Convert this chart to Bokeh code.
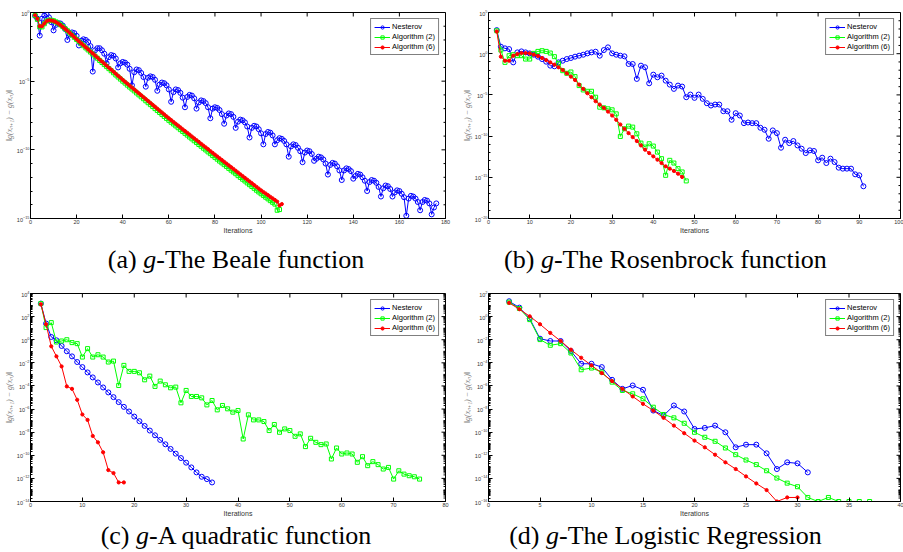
import math
from bokeh.plotting import figure
from bokeh.models import Range1d, FixedTicker, Legend, LegendItem, Div
from bokeh.layouts import column, row
from bokeh.embed import file_html
from bokeh.resources import INLINE

BLUE = "#0000ff"
GREEN = "#00ff00"
RED = "#ff0000"
LABELS = ["Nesterov", "Algorithm (2)", "Algorithm (6)"]
Y_LABEL = "‖g(xₙ₊₁) − g(xₙ)‖"
X_LABEL = "Iterations"

# ---- data: log10 of ||g(x_{n+1}) - g(x_n)||, iterations start at 2 ----
# (a) Beale
A_NES = [-0.24, -0.45, -1.68, -0.45, -0.22, -0.15, -0.35, -0.7, -1.3, -0.9,
         -0.78, -0.8, -0.95, -1.2, -2.0, -1.6, -1.45, -1.5, -1.7, -2.4,
         -2.05, -1.95, -2.0, -2.15, -2.45, -4.3, -2.75, -2.6, -2.6, -2.75,
         -3.0, -3.7, -3.25, -3.1, -3.15, -3.35, -4.0, -3.7, -3.6, -3.65,
         -3.8, -4.1, -5.3, -4.35, -4.15, -4.2, -4.4, -4.7, -5.4, -4.75,
         -4.65, -4.7, -4.9, -5.7, -5.25, -5.1, -5.15, -5.3, -5.6, -6.5,
         -5.8, -5.6, -5.65, -5.85, -6.2, -6.9, -6.15, -6.0, -6.05, -6.25,
         -7.0, -6.55, -6.4, -6.45, -6.6, -6.9, -7.7, -7.0, -6.9, -6.95,
         -7.1, -7.4, -8.1, -7.5, -7.35, -7.4, -7.6, -8.4, -7.95, -7.8,
         -7.85, -8.0, -8.3, -9.1, -8.4, -8.25, -8.3, -8.5, -8.8, -9.6,
         -8.85, -8.7, -8.75, -8.95, -9.6, -9.3, -9.15, -9.2, -9.35, -9.6,
         -10.5, -9.75, -9.6, -9.65, -9.85, -10.1, -10.9, -10.2, -10.05, -10.1,
         -10.3, -10.8, -10.65, -10.5, -10.55, -10.7, -11.0, -11.8, -11.1, -10.95,
         -11.0, -11.2, -11.5, -12.2, -11.5, -11.35, -11.4, -11.55, -12.1, -11.9,
         -11.75, -11.8, -12.0, -12.25, -13.0, -12.35, -12.2, -12.25, -12.4, -12.7,
         -13.4, -12.8, -12.6, -12.65, -12.85, -13.4, -13.1, -12.95, -13.0, -13.2,
         -13.45, -14.8, -13.55, -13.35, -13.4, -13.55, -13.8, -14.4, -13.8, -13.65,
         -13.7, -13.9, -14.7, -14.2, -13.9]
A_ALG2 = [-0.22, -0.50, -1.05, -1.05, -0.82, -0.62, -0.56, -0.56, -0.60, -0.68,
          -0.78, -0.90, -1.03, -1.18, -1.33, -1.49, -1.65, -1.81, -1.97,
          -2.12, -2.27, -2.42, -2.58, -2.73, -2.88, -3.03, -3.18, -3.33, -3.49,
          -3.64, -3.79, -3.94, -4.09, -4.24, -4.39, -4.55, -4.70, -4.85, -5.00,
          -5.14, -5.29, -5.43, -5.57, -5.71, -5.86, -6.00, -6.14, -6.28, -6.43,
          -6.57, -6.71, -6.85, -7.00, -7.14, -7.28, -7.42, -7.57, -7.71, -7.85,
          -7.99, -8.12, -8.26, -8.39, -8.53, -8.66, -8.80, -8.93, -9.07, -9.20,
          -9.34, -9.47, -9.61, -9.74, -9.88, -10.01, -10.15, -10.28, -10.42, -10.55,
          -10.68, -10.82, -10.95, -11.08, -11.21, -11.35, -11.48, -11.61, -11.74, -11.88,
          -12.01, -12.14, -12.27, -12.41, -12.54, -12.67, -12.80, -12.94, -13.07, -13.20,
          -13.32, -13.45, -13.57, -13.70, -13.82, -13.95, -14.40, -14.35]
A_ALG6 = [-0.20, -0.45, -1.00, -1.00, -0.80, -0.62, -0.57, -0.58, -0.62, -0.70,
          -0.80, -0.92, -1.05, -1.19, -1.33, -1.48, -1.63, -1.79, -1.95,
          -2.10, -2.25, -2.39, -2.54, -2.69, -2.84, -2.98, -3.13, -3.28, -3.43,
          -3.57, -3.72, -3.87, -4.02, -4.16, -4.31, -4.46, -4.61, -4.75, -4.90,
          -5.04, -5.18, -5.32, -5.46, -5.60, -5.74, -5.88, -6.02, -6.16, -6.30,
          -6.44, -6.58, -6.72, -6.86, -7.00, -7.14, -7.28, -7.42, -7.56, -7.70,
          -7.83, -7.97, -8.10, -8.23, -8.36, -8.50, -8.63, -8.76, -8.89, -9.03,
          -9.16, -9.29, -9.42, -9.56, -9.69, -9.82, -9.95, -10.09, -10.22, -10.35,
          -10.48, -10.61, -10.74, -10.87, -11.00, -11.13, -11.26, -11.39, -11.52, -11.65,
          -11.78, -11.91, -12.04, -12.17, -12.30, -12.43, -12.56, -12.69, -12.82, -12.95,
          -13.07, -13.18, -13.30, -13.42, -13.53, -13.65, -13.77, -14.05, -13.95]

# (b) Rosenbrock
B_NES = [2.86, 0.85, 0.65, 0.56, -1.05, 0.16, 0.28, 0.16, 0.04, -0.12,
         -0.36, -0.65, -0.97, -1.45, -1.53, -1.05, -0.85, -0.65, -0.52, -0.36,
         -0.24, -0.12, 0.04, 0.16, 0.24, -0.24, 0.44, 0.77, 0.04, -0.12,
         -0.24, -0.32, -1.25, -1.25, -3.06, -1.45, -1.65, -3.59, -2.54, -2.86,
         -2.66, -3.27, -3.75, -4.27, -3.87, -3.99, -5.28, -4.96, -5.36, -4.96,
         -5.48, -6.01, -6.29, -6.17, -6.17, -6.98, -6.98, -8.02, -7.22, -7.5,
         -8.43, -8.35, -8.43, -8.43, -8.99, -9.23, -10.32, -9.31, -9.64, -11.41,
         -10.44, -10.85, -10.6, -11.13, -11.53, -12.06, -11.73, -11.81, -12.94, -12.62,
         -13.27, -12.74, -13.15, -13.83, -13.95, -13.95, -13.95, -14.64, -14.76, -16.09]
B_ALG2 = [2.78, 0.44, -1.05, -0.24, -0.12, -0.24, -0.24, -0.65, -0.65, 0.04,
          0.28, 0.36, 0.28, 0.08, -0.36, -1.17, -2.06, -2.38, -2.22, -2.78,
          -3.87, -4.4, -4.56, -4.56, -5.28, -6.49, -6.57, -6.69, -6.81, -7.3,
          -10.04, -9.11, -8.79, -8.91, -9.72, -10.85, -11.33, -10.93, -11.21, -11.94,
          -12.74, -14.76, -12.94, -13.27, -13.95, -14.35, -15.44]
B_ALG6 = [2.7, -0.36, -0.85, -0.85, -0.24, -0.04, 0.08, 0.08, 0.04, -0.12,
          -0.28, -0.52, -0.77, -1.05, -1.33, -1.65, -1.98, -2.38, -2.78, -3.19,
          -3.75, -4.27, -4.8, -5.28, -5.77, -6.17, -6.57, -7.02, -7.5, -8.02,
          -8.59, -9.11, -9.64, -10.12, -10.6, -11.13, -11.65, -12.06, -12.46, -12.86,
          -13.27, -13.67, -13.95, -14.23, -14.56, -14.96]

# (c) quadratic
C_NES = [3.13, 1.4, 0.24, -0.05, -0.54, -1.0, -1.44, -1.93, -2.37, -2.83,
         -3.26, -3.7, -4.13, -4.56, -4.97, -5.4, -5.81, -6.21, -6.65, -7.05,
         -7.46, -7.86, -8.27, -8.67, -9.05, -9.45, -9.86, -10.24, -10.64, -11.05,
         -11.48, -11.86, -12.06, -12.35]
C_ALG2 = [3.13, 1.05, 1.48, -0.2, -0.11, 0.0, -0.25, -0.34, -1.5, -0.77,
          -1.5, -1.3, -1.5, -1.93, -1.85, -3.96, -2.22, -2.74, -2.74, -2.86,
          -3.47, -3.15, -4.04, -3.58, -3.9, -4.16, -4.1, -5.46, -4.39, -4.91,
          -4.91, -5.03, -5.64, -5.26, -6.07, -5.69, -5.98, -6.27, -6.13, -8.59,
          -6.5, -6.94, -6.94, -7.08, -7.86, -7.34, -8.01, -7.72, -7.86, -8.36,
          -8.15, -9.25, -8.53, -8.88, -9.08, -9.02, -10.32, -9.37, -9.89, -9.8,
          -9.89, -10.61, -10.12, -10.9, -10.55, -10.81, -11.19, -11.05, -12.06, -11.34,
          -11.63, -11.77, -11.86, -12.06]
C_ALG6 = [3.07, 1.34, -0.57, -1.44, -2.31, -4.04, -4.25, -5.2, -6.47, -6.94,
          -8.33, -8.88, -9.74, -11.28, -11.54, -12.35, -12.35]

# (d) logistic regression
D_NES = [1.33, 0.78, -0.17, -1.91, -2.11, -2.11, -2.98, -4.08, -4.08, -4.37,
         -5.47, -6.25, -5.96, -6.33, -8.13, -8.56, -7.69, -8.21, -9.72, -9.63,
         -9.43, -10.01, -11.31, -11.08, -11.08, -11.83, -13.19, -12.61, -12.7, -13.48]
D_ALG2 = [1.25, 0.7, -0.26, -1.99, -2.48, -2.34, -3.15, -4.6, -4.45, -4.8,
          -5.67, -6.39, -6.68, -7.11, -7.84, -8.47, -8.76, -9.23, -10.01, -10.44,
          -10.79, -11.37, -11.95, -12.41, -12.81, -13.34, -13.97, -14.41, -14.72, -15.65,
          -16.0, -15.65, -16.0, -16.0, -16.0, -16.0]
D_ALG6 = [1.19, 0.64, 0.03, -0.66, -1.41, -2.11, -2.86, -3.56, -4.22, -4.89,
          -5.58, -6.25, -6.91, -7.55, -8.13, -8.76, -9.43, -10.09, -10.73, -11.31,
          -11.95, -12.61, -13.19, -13.83, -14.44, -15.01, -16.0, -15.65, -15.65]

CAPTIONS = ["(a) <i>g</i>-The Beale function",
            "(b) <i>g</i>-The Rosenbrock function",
            "(c) <i>g</i>-A quadratic function",
            "(d) <i>g</i>-The Logistic Regression"]

SANS = "Liberation Sans"


def make_fig(series, w, h, mbl, mbr, mbt, mbb, xmax, xstep, ylo, yhi, ystep, dense):
    p = figure(width=w, height=h, x_range=Range1d(0, xmax),
               y_range=Range1d(10.0 ** ylo, 10.0 ** yhi), y_axis_type="log",
               output_backend="svg", toolbar_location=None,
               min_border_left=mbl, min_border_right=mbr,
               min_border_top=mbt, min_border_bottom=mbb)
    p.background_fill_color = "white"
    p.border_fill_color = "white"
    p.outline_line_color = "black"
    p.outline_line_width = 1
    p.xgrid.visible = False
    p.ygrid.visible = False

    xt = list(range(0, xmax + 1, xstep))
    ymaj = [10.0 ** e for e in range(ylo, yhi + 1, ystep)]
    if dense:
        ymin = [k * 10.0 ** e for e in range(ylo, yhi) for k in range(1, 10)
                if not (k == 1 and (e - ylo) % ystep == 0)]
    else:
        ymin = [10.0 ** e for e in range(ylo, yhi + 1) if (e - ylo) % ystep]

    xa = p.below[0]
    ya = p.left[0]
    xa.ticker = FixedTicker(ticks=xt)
    ya.ticker = FixedTicker(ticks=ymaj, minor_ticks=ymin)
    for ax in (xa, ya):
        ax.major_tick_in = 4
        ax.major_tick_out = 0
        ax.minor_tick_in = 2
        ax.minor_tick_out = 0
        ax.axis_line_color = "black"
        ax.major_label_text_font = SANS
        ax.major_label_text_font_size = "5.5px"
        ax.major_label_text_color = "#333333"
        ax.major_label_standoff = 1
        ax.axis_label_standoff = 0
    xa.axis_label = X_LABEL
    xa.axis_label_text_font = SANS
    xa.axis_label_text_font_size = "7px"
    xa.axis_label_text_font_style = "normal"
    xa.axis_label_text_color = "#333333"
    ya.axis_label = Y_LABEL
    ya.axis_label_text_font = "Liberation Serif"
    ya.axis_label_text_font_size = "8px"
    ya.axis_label_text_font_style = "italic"
    ya.axis_label_text_color = "#808080"

    # inward tick marks on the top and right edges (box style)
    ytop = 10.0 ** yhi
    p.ray(x=xt, y=[ytop] * len(xt), length=4, angle=-math.pi / 2,
          length_units="screen", line_color="black", line_width=1)
    p.ray(x=[xmax] * len(ymaj), y=ymaj, length=4, angle=math.pi,
          length_units="screen", line_color="black", line_width=1)
    p.ray(x=[xmax] * len(ymin), y=ymin, length=2, angle=math.pi,
          length_units="screen", line_color="black", line_width=1)

    styles = [
        dict(marker="circle", size=5, line_color=BLUE, fill_color=None, color=BLUE),
        dict(marker="square", size=4, line_color=GREEN, fill_color=None, color=GREEN),
        dict(marker="circle", size=3.2, line_color=RED, fill_color=RED, color=RED),
    ]
    items = []
    for vals, st, lab in zip(series, styles, LABELS):
        xs = list(range(2, 2 + len(vals)))
        ys = [10.0 ** v for v in vals]
        ln = p.line(xs, ys, line_color=st["color"], line_width=1)
        sc = p.scatter(xs, ys, marker=st["marker"], size=st["size"],
                       line_color=st["line_color"], fill_color=st["fill_color"], line_width=1)
        items.append(LegendItem(label=lab, renderers=[ln, sc]))
    leg = Legend(items=items, location="top_right")
    leg.label_text_font = SANS
    leg.label_text_font_size = "7.5px"
    leg.label_text_color = "black"
    leg.label_height = 8
    leg.glyph_height = 8
    leg.glyph_width = 16
    leg.label_standoff = 2
    leg.spacing = 1
    leg.padding = 3
    leg.margin = 6
    leg.border_line_color = "black"
    leg.border_line_width = 1
    leg.background_fill_color = "white"
    leg.background_fill_alpha = 1
    p.add_layout(leg)
    return p


def caption(html, w, h, lh, dx):
    inner = ('<div style="width:%dpx;height:%dpx;line-height:%dpx;text-align:center;'
             'font-family:\'Liberation Serif\',serif;font-size:26px;color:#000;'
             'white-space:nowrap;position:relative;left:%dpx;">%s</div>'
             % (w, lh, lh, dx, html))
    return Div(text=inner, width=w, height=h, margin=0, disable_math=True)


# page has no margin: figures map straight onto the 903x552 window
pa = make_fig([A_NES, A_ALG2, A_ALG6], 458, 240, 30, 13, 10, 22, 180, 20, -15, 0, 5, False)
pb = make_fig([B_NES, B_ALG2, B_ALG6], 445, 240, 30, 3, 12, 22, 100, 10, -20, 5, 5, False)
pc = make_fig([C_NES, C_ALG2, C_ALG6], 458, 241, 30, 13, 11, 22, 80, 10, -14, 4, 2, True)
pd = make_fig([D_NES, D_ALG2, D_ALG6], 445, 241, 30, 3, 11, 22, 40, 5, -16, 2, 2, True)

ca = caption(CAPTIONS[0], 458, 42, 40, 7)
cb = caption(CAPTIONS[1], 445, 42, 40, -15)
cc = caption(CAPTIONS[2], 458, 29, 26, 7)
cd = caption(CAPTIONS[3], 445, 29, 26, -15)

layout = column(row(pa, pb), row(ca, cb), row(pc, pd), row(cc, cd))

open("out.html", "w").write(file_html(layout, INLINE))
